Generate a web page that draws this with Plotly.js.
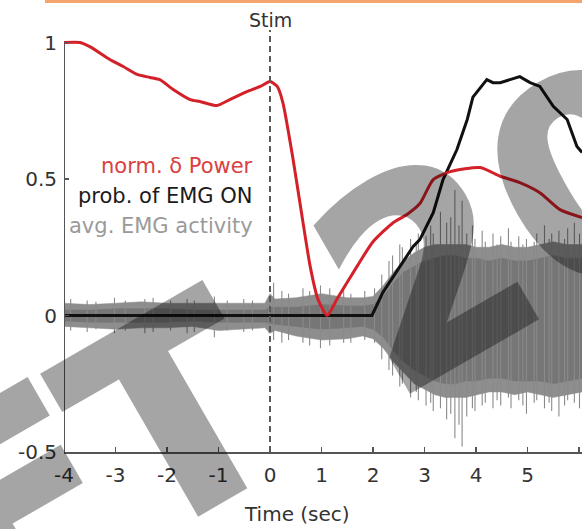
<!DOCTYPE html>
<html>
<head>
<meta charset="utf-8">
<script src="https://cdn.plot.ly/plotly-3.0.1.min.js"></script>
<style>html,body{margin:0;padding:0;background:#fff;overflow:hidden}</style>
</head>
<body>
<div id="chart" style="width:582px;height:529px"></div>
<script>
// ---- data ----
const deltaX = [-4, -3.69, -3.50, -3.11, -2.85, -2.58, -2.33, -2.14, -1.88, -1.55, -1.36, -1.03, -0.78, -0.45, -0.19, 0.0, 0.14, 0.25, 0.45, 0.60, 0.78, 0.93, 1.11, 1.30, 1.69, 2.0, 2.39, 2.66, 2.91, 3.17, 3.50, 4.08, 4.47, 4.85, 5.24, 5.63, 6.06];
const deltaY = [1.0, 1.0, 0.985, 0.938, 0.912, 0.883, 0.872, 0.864, 0.828, 0.791, 0.784, 0.769, 0.791, 0.82, 0.839, 0.857, 0.839, 0.78, 0.57, 0.39, 0.18, 0.06, 0.0, 0.06, 0.18, 0.27, 0.34, 0.37, 0.41, 0.498, 0.527, 0.542, 0.51, 0.487, 0.45, 0.388, 0.359];

const emgOnX = [-4, 1.98, 2.19, 2.52, 2.78, 2.91, 3.17, 3.36, 3.63, 3.83, 3.94, 4.21, 4.33, 4.47, 4.85, 5.05, 5.24, 5.50, 5.77, 5.96, 6.06];
const emgOnY = [0, 0, 0.084, 0.18, 0.253, 0.278, 0.377, 0.498, 0.608, 0.718, 0.80, 0.864, 0.853, 0.853, 0.875, 0.853, 0.839, 0.766, 0.718, 0.619, 0.597];

const emgX       = [-4, -3.5, -3, -2.5, -2, -1.5, -1, -0.5, -0.1, 0, 0.1, 0.5, 1, 1.5, 1.8, 2.0, 2.2, 2.4, 2.6, 2.8, 3.0, 3.2, 3.4, 3.6, 3.8, 4.0, 4.25, 4.5, 4.75, 5.0, 5.25, 5.5, 5.75, 6.06];
const emgOuterHi = [0.045, 0.04, 0.045, 0.05, 0.045, 0.045, 0.045, 0.045, 0.045, 0.08, 0.06, 0.065, 0.08, 0.065, 0.065, 0.07, 0.11, 0.16, 0.2, 0.23, 0.25, 0.26, 0.26, 0.26, 0.26, 0.25, 0.25, 0.26, 0.25, 0.25, 0.26, 0.27, 0.26, 0.26];
const emgOuterLo = [-0.04, -0.045, -0.05, -0.045, -0.045, -0.04, -0.055, -0.05, -0.045, -0.065, -0.055, -0.075, -0.09, -0.085, -0.075, -0.085, -0.12, -0.17, -0.21, -0.25, -0.27, -0.29, -0.3, -0.3, -0.3, -0.29, -0.28, -0.28, -0.29, -0.28, -0.29, -0.3, -0.29, -0.28];
const emgCoreHi  = [0.02, 0.02, 0.025, 0.025, 0.025, 0.02, 0.02, 0.02, 0.02, 0.03, 0.03, 0.03, 0.04, 0.035, 0.035, 0.04, 0.07, 0.12, 0.16, 0.18, 0.20, 0.21, 0.22, 0.22, 0.21, 0.21, 0.20, 0.21, 0.20, 0.20, 0.21, 0.22, 0.21, 0.21];
const emgCoreLo  = [-0.02, -0.025, -0.025, -0.025, -0.025, -0.02, -0.025, -0.025, -0.025, -0.03, -0.03, -0.04, -0.05, -0.045, -0.04, -0.05, -0.08, -0.13, -0.17, -0.20, -0.22, -0.24, -0.25, -0.25, -0.24, -0.24, -0.23, -0.23, -0.24, -0.24, -0.24, -0.25, -0.24, -0.23];

const spikeX  = [-3.87, -3.55, -3.38, -3.02, -2.81, -2.43, -2.27, -1.93, -1.61, -1.47, -1.08, -0.83, -0.51, -0.34, -0.02,
                 0.07, 0.23, 0.36, 0.64, 0.77, 0.98, 1.16, 1.43, 1.57, 1.84, 2.03,
                 2.17, 2.31, 2.38, 2.52, 2.57, 2.73, 2.84, 2.88, 3.03, 3.12, 3.17, 3.31, 3.43, 3.51, 3.59, 3.67, 3.73, 3.82, 3.93,
                 3.98, 4.12, 4.18, 4.33, 4.41, 4.48, 4.63, 4.68, 4.83, 4.91, 4.98, 5.13, 5.18, 5.33, 5.42, 5.47, 5.61, 5.72, 5.78, 5.91, 6.01];
const spikeHi = [0.06, 0.055, 0.05, 0.065, 0.055, 0.06, 0.065, 0.055, 0.06, 0.055, 0.07, 0.055, 0.06, 0.055, 0.065,
                 0.12, 0.09, 0.08, 0.10, 0.09, 0.11, 0.10, 0.09, 0.08, 0.09, 0.10,
                 0.15, 0.20, 0.22, 0.26, 0.25, 0.28, 0.27, 0.30, 0.29, 0.33, 0.30, 0.38, 0.34, 0.36, 0.46, 0.33, 0.42, 0.30, 0.33,
                 0.28, 0.31, 0.27, 0.30, 0.26, 0.29, 0.32, 0.27, 0.29, 0.26, 0.28, 0.27, 0.30, 0.33, 0.28, 0.30, 0.31, 0.28, 0.32, 0.34, 0.30];
const spikeLo = [-0.055, -0.06, -0.05, -0.065, -0.055, -0.065, -0.06, -0.055, -0.065, -0.06, -0.08, -0.055, -0.06, -0.055, -0.065,
                 -0.09, -0.10, -0.09, -0.10, -0.11, -0.12, -0.11, -0.10, -0.10, -0.09, -0.10,
                 -0.16, -0.20, -0.22, -0.26, -0.25, -0.30, -0.28, -0.31, -0.33, -0.32, -0.35, -0.34, -0.38, -0.36, -0.45, -0.40, -0.48, -0.37, -0.34,
                 -0.35, -0.33, -0.32, -0.34, -0.31, -0.33, -0.30, -0.34, -0.31, -0.33, -0.36, -0.32, -0.31, -0.34, -0.32, -0.35, -0.37, -0.33, -0.31, -0.32, -0.34];

const xTickVals = [-4, -3, -2, -1, 0, 1, 2, 3, 4, 5, 6];
const xTickText = ['-4', '-3', '-2', '-1', '0', '1', '2', '3', '4', '5', '6'];
const yTickVals = [-0.5, 0, 0.5, 1];
const yTickText = ['-0.5', '0', '0.5', '1'];

const labelDelta = 'norm. δ Power';
const labelOn = 'prob. of EMG ON';
const labelEmg = 'avg. EMG activity';
const stimLabel = 'Stim';
const xTitle = 'Time (sec)';
const watermarkChars = ['F', 'T', '2', '0'];

// ---- geometry helpers (pixel -> paper) ----
const W = 582, H = 529, ML = 64, MR = 0, MT = 30, MB = 77;
const PW = W - ML - MR, PH = H - MT - MB;
const px = v => (v - ML) / PW;
const py = v => (H - MB - v) / PH;
const wmCenters = [[18, 506], [175, 418], [427, 272], [593, 177]];

function band(x, hi, lo) {
  return { x: x.concat(x.slice().reverse()), y: hi.concat(lo.slice().reverse()) };
}
const outer = band(emgX, emgOuterHi, emgOuterLo);
const core = band(emgX, emgCoreHi, emgCoreLo);
const sx = [], sy = [];
spikeX.forEach((x, i) => { sx.push(x, x, null); sy.push(spikeLo[i], spikeHi[i], null); });

const traces = [
  { x: outer.x, y: outer.y, type: 'scatter', mode: 'lines', fill: 'toself', fillcolor: '#8e8e8e', line: { width: 0.5, color: '#8e8e8e' }, hoverinfo: 'skip', showlegend: false },
  { x: core.x, y: core.y, type: 'scatter', mode: 'lines', fill: 'toself', fillcolor: '#767676', line: { width: 0.5, color: '#767676' }, hoverinfo: 'skip', showlegend: false },
  { x: sx, y: sy, type: 'scatter', mode: 'lines', line: { width: 1.1, color: '#8a8a8a' }, hoverinfo: 'skip', showlegend: false, connectgaps: false },
  { x: emgOnX, y: emgOnY, type: 'scatter', mode: 'lines', line: { width: 3, color: '#111111' }, showlegend: false },
  { x: deltaX, y: deltaY, type: 'scatter', mode: 'lines', line: { width: 3, color: '#d42028', shape: 'spline', smoothing: 0.6 }, showlegend: false }
];

const baseFont = { family: 'DejaVu Sans', size: 20, color: '#333333' };
const annotations = [
  { xref: 'x', yref: 'paper', x: 0, y: py(19.5), text: stimLabel, showarrow: false, xanchor: 'center', yanchor: 'middle', font: { family: 'DejaVu Sans', size: 19, color: '#333333' } },
  { xref: 'paper', yref: 'paper', x: px(297), y: py(514), text: xTitle, showarrow: false, xanchor: 'center', yanchor: 'middle', font: { family: 'DejaVu Sans', size: 20, color: '#333333' } },
  { xref: 'paper', yref: 'paper', x: px(255), y: py(166), text: labelDelta, showarrow: false, xanchor: 'right', yanchor: 'middle', font: { family: 'DejaVu Sans', size: 21, color: '#d9413f' } },
  { xref: 'paper', yref: 'paper', x: px(255), y: py(196), text: labelOn, showarrow: false, xanchor: 'right', yanchor: 'middle', font: { family: 'DejaVu Sans', size: 21, color: '#1a1a1a' } },
  { xref: 'paper', yref: 'paper', x: px(255), y: py(226), text: labelEmg, showarrow: false, xanchor: 'right', yanchor: 'middle', font: { family: 'DejaVu Sans', size: 21, color: '#9a9a9a' } }
];
const WM_START = annotations.length;
watermarkChars.forEach((c, i) => {
  annotations.push({ xref: 'paper', yref: 'paper', x: px(wmCenters[i][0]), y: py(wmCenters[i][1]), text: c, showarrow: false, textangle: -30, xanchor: 'center', yanchor: 'middle', font: { family: 'DejaVu Sans', size: 270, weight: 'bold', color: '#000000' } });
});

const yTop = -0.5 + PH / 273;
const xRight = -4 + PW / 51.5;

const layout = {
  width: W, height: H,
  margin: { l: ML, r: MR, t: MT, b: MB, pad: 0 },
  paper_bgcolor: '#ffffff', plot_bgcolor: '#ffffff',
  showlegend: false,
  xaxis: { range: [-4, xRight], tickvals: xTickVals, ticktext: xTickText, ticks: 'inside', ticklen: 5, tickwidth: 1.5, tickcolor: '#555555', showline: true, linecolor: '#555555', linewidth: 2, showgrid: false, zeroline: false, tickfont: baseFont, ticklabelstandoff: 4 },
  yaxis: { range: [-0.5, yTop], tickvals: yTickVals, ticktext: yTickText, ticks: 'inside', ticklen: 5, tickwidth: 1.5, tickcolor: '#555555', showline: false, showgrid: false, zeroline: false, tickfont: baseFont, ticklabelstandoff: 6 },
  shapes: [
    { type: 'line', xref: 'x', yref: 'y', x0: 0, x1: 0, y0: -0.5, y1: yTop, line: { color: '#5a5a5a', width: 2, dash: '6px,4px' }, layer: 'above' },
    { type: 'line', xref: 'x', yref: 'y', x0: -4, x1: -4, y0: -0.5, y1: 1, line: { color: '#555555', width: 2 }, layer: 'above' },
    { type: 'line', xref: 'paper', yref: 'paper', x0: px(45), x1: 1, y0: py(1.5), y1: py(1.5), line: { color: '#f4a56e', width: 3 } }
  ],
  annotations: annotations
};

function styleWatermark() {
  document.querySelectorAll('g.annotation').forEach(g => {
    const i = parseInt(g.getAttribute('data-index'), 10);
    if (i >= WM_START) {
      g.querySelectorAll('text').forEach(t => {
        t.style.stroke = '#000000';
        t.style.strokeWidth = '6px';
        t.style.strokeLinejoin = 'miter';
        t.style.opacity = '0.35';
      });
    }
  });
}

Plotly.newPlot('chart', traces, layout, { staticPlot: true, displayModeBar: false }).then(styleWatermark);
</script>
</body>
</html>
